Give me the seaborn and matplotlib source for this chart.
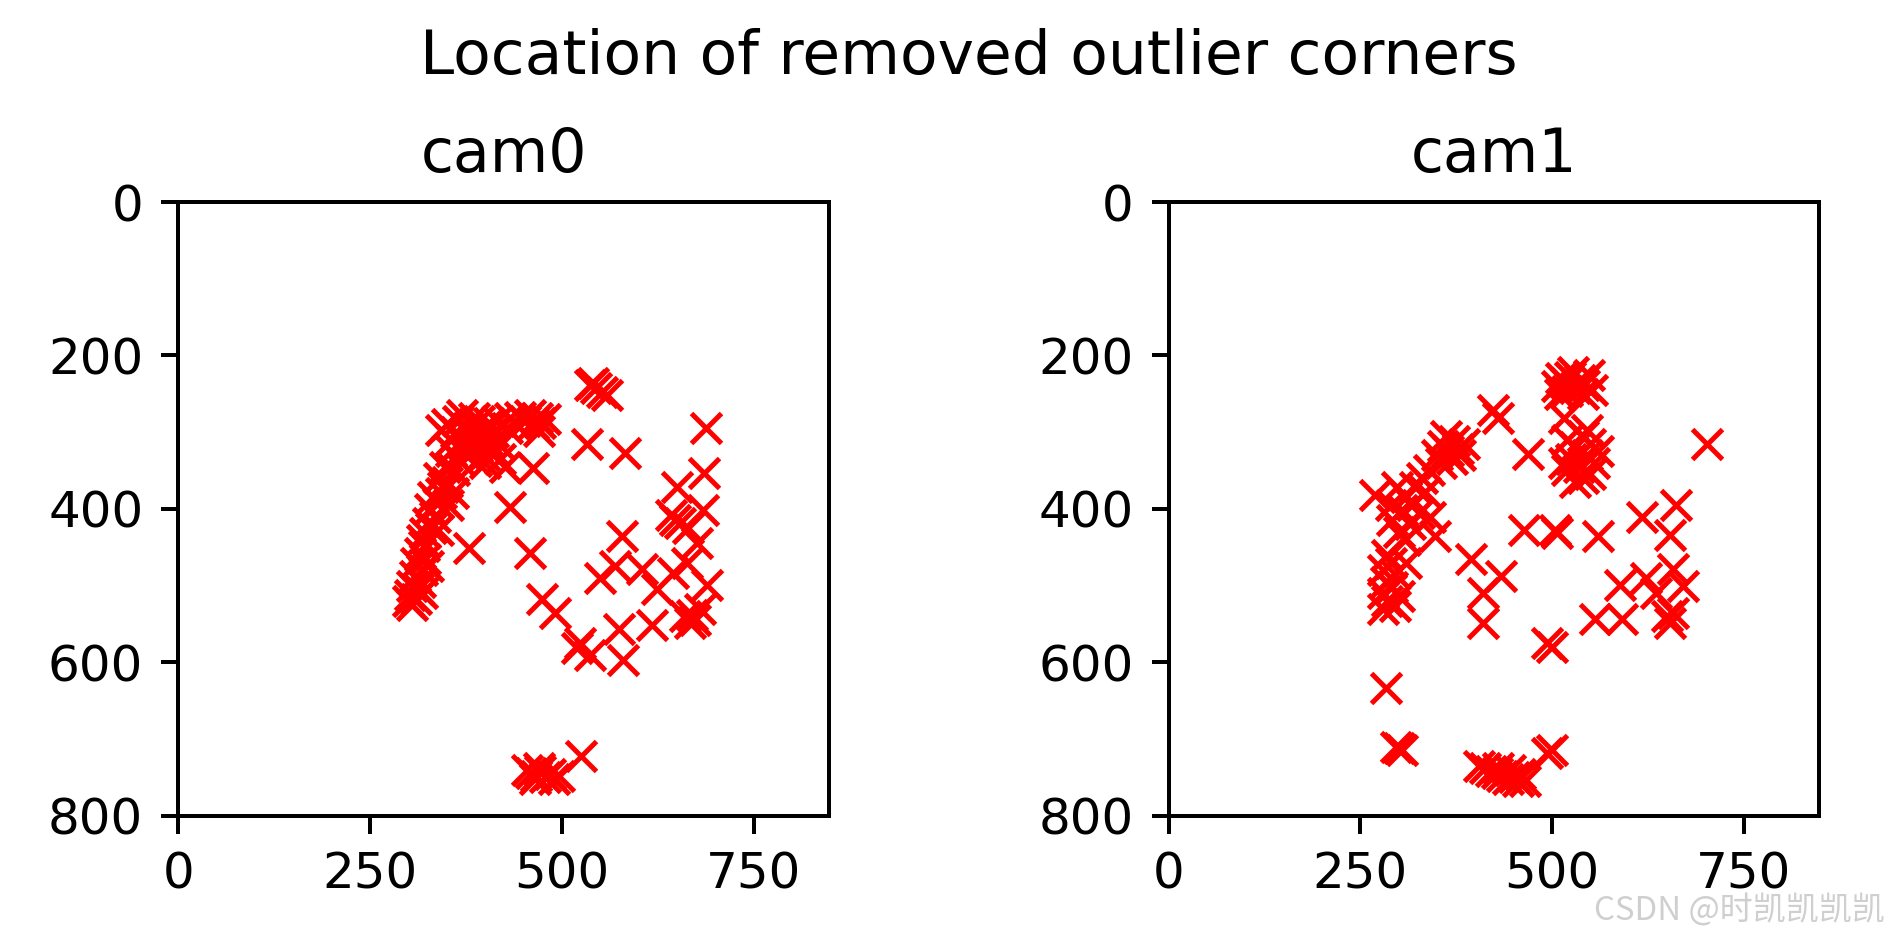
import matplotlib
matplotlib.use("Agg")
import matplotlib.pyplot as plt
import numpy as np
import pandas as pd
import seaborn as sns

# ── removed outlier corners, pixel coordinates ──
cam0_x = [343, 350, 356, 362, 365, 370, 372, 378, 382, 385, 390, 395, 398, 402, 405, 410,
          412, 415, 418, 420, 400, 388, 375, 365, 428, 432, 440, 445, 452, 458, 462, 468,
          472, 470, 380, 392, 355, 348, 360, 426,
          340, 345, 332, 338, 328, 335, 325, 342, 350, 330, 322, 338, 352, 318, 358,
          320, 315, 322, 310, 318, 308, 315, 305, 312, 302, 310, 305, 318, 300, 325,
          463, 432, 379, 458, 474, 491, 537, 545, 552, 559, 541, 533, 582, 688, 686, 650,
          643, 684, 654, 676, 578, 550, 569, 604, 624, 645, 663, 689, 674, 667, 680, 617,
          574, 520, 524, 537, 580, 660, 670, 648, 665, 478,
          455, 460, 466, 472, 478, 484, 490, 496, 470, 465, 525]
cam0_y = [297, 290, 310, 300, 285, 278, 315, 295, 305, 282, 320, 298, 330, 310, 288, 300,
          325, 285, 315, 335, 340, 338, 330, 335, 295, 282, 290, 280, 285, 278, 290, 282,
          288, 298, 318, 285, 325, 345, 350, 345,
          360, 372, 385, 392, 400, 410, 418, 380, 365, 425, 432, 428, 395, 440, 379,
          448, 458, 465, 470, 480, 488, 495, 500, 505, 512, 518, 525, 510, 520, 475,
          347, 397, 451, 457, 518, 536, 238, 242, 248, 252, 236, 316, 327, 294, 353, 371,
          408, 401, 418, 444, 436, 490, 475, 479, 505, 484, 470, 499, 545, 549, 531, 551,
          557, 582, 575, 590, 597, 540, 538, 415, 425, 283,
          740, 745, 748, 742, 750, 746, 752, 748, 738, 752, 722]

cam1_x = [506, 512, 518, 524, 530, 536, 542, 548, 552, 520, 510, 540, 528,
          423, 430, 469, 515, 545,
          520, 530, 540, 550, 525, 535, 545, 555, 520, 540, 550, 530, 560, 515,
          350, 358, 365, 372, 378, 385, 362, 380, 370, 355,
          340, 330, 322, 335, 310, 318, 326, 298, 269, 290, 305, 341, 347, 315, 300, 308, 292,
          285, 290, 280, 295, 283, 292, 280, 300, 285, 280, 295, 310,
          395, 434, 410, 410, 463, 504, 493, 500, 702, 506, 560, 617, 662, 654, 589, 623,
          636, 658, 671, 556, 591, 654, 658, 650, 284, 300, 297, 305,
          405, 412, 420, 428, 435, 442, 450, 458, 465, 430, 445, 455, 493, 500]
cam1_y = [240, 230, 236, 228, 242, 232, 238, 226, 245, 247, 250, 250, 222,
          271, 281, 329, 282, 297,
          310, 320, 305, 315, 335, 345, 330, 340, 350, 360, 355, 365, 325, 340,
          330, 318, 325, 312, 322, 315, 305, 330, 335, 340,
          350, 360, 372, 378, 385, 395, 405, 371, 382, 395, 402, 410, 436, 420, 430, 440, 415,
          460, 470, 480, 485, 495, 502, 510, 514, 520, 531, 527, 470,
          466, 488, 510, 549, 427, 427, 575, 580, 316, 431, 436, 410, 395, 434, 499, 490,
          510, 479, 501, 544, 544, 549, 536, 540, 634, 712, 710, 715,
          735, 738, 742, 745, 748, 752, 750, 746, 755, 738, 740, 755, 718, 715]

cams = ["cam0", "cam1"]
img_w, img_h = 848, 800

df = pd.concat([
    pd.DataFrame({"cam": "cam0", "x": cam0_x, "y": cam0_y}),
    pd.DataFrame({"cam": "cam1", "x": cam1_x, "y": cam1_y}),
])

DPI = 360
fig = plt.figure(figsize=(1889 / DPI, 937 / DPI), dpi=DPI)
fig.suptitle("Location of removed outlier corners", fontsize=12.3, x=0.513, y=0.97)

lefts = [0.0944, 0.6186]
for cam, left in zip(cams, lefts):
    ax = fig.add_axes([left, 0.1295, 0.3443, 0.6549])
    sub = df[df["cam"] == cam]
    sns.scatterplot(data=sub, x="x", y="y", ax=ax, marker="x", color="red",
                    s=36, linewidth=1.0, legend=False)
    ax.set_xlim(0, img_w)
    ax.set_ylim(img_h, 0)
    ax.set_aspect("equal")
    ax.set_xticks([0, 250, 500, 750])
    ax.set_yticks([0, 200, 400, 600, 800])
    ax.set_xlabel("")
    ax.set_ylabel("")
    ax.set_title(cam, fontsize=12)

# watermark in the corner
fig.text(0.998, 0.028, "CSDN @时凯凯凯凯", ha="right", va="center", fontsize=6.6,
         color="#cfcfcf", family=["Noto Sans CJK SC", "DejaVu Sans"])

fig.savefig("out.png", dpi=DPI)
